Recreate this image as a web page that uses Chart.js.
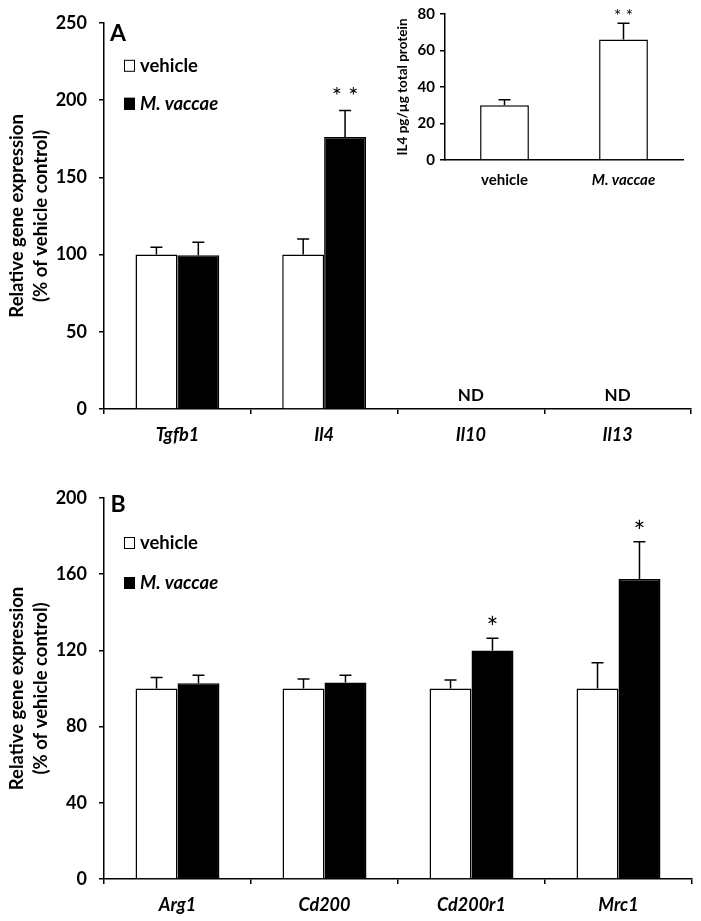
<!DOCTYPE html>
<html>
<head>
<meta charset="utf-8">
<script src="https://cdn.jsdelivr.net/npm/chart.js@4/dist/chart.umd.min.js"></script>
<style>
  body { margin: 0; background: #fff; width: 701px; height: 921px; position: relative; overflow: hidden; }
  canvas { position: absolute; }
</style>
</head>
<body>
<canvas id="panelA" width="701" height="450" style="left:0;top:0"></canvas>
<canvas id="inset" width="316" height="200" style="left:385px;top:0"></canvas>
<canvas id="panelB" width="701" height="471" style="left:0;top:450px"></canvas>
<script>
'use strict';

// panel A: cytokine genes
const genesA = ['Tgfb1', 'Il4', 'Il10', 'Il13'];
const vehicleA = [100, 100, null, null];
const vehicleErrA = [4.7, 10, null, null];
const vaccaeA = [99.5, 176, null, null];
const vaccaeErrA = [8.5, 17.3, null, null];
const starsA = ['', '**', '', ''];
const notDetectedA = [false, false, true, true];

// inset: IL4 protein
const insetGroups = ['vehicle', 'M. vaccae'];
const insetIL4 = [30, 66];
const insetErr = [3, 9];
const insetStars = ['', '**'];

// panel B: M2 markers
const genesB = ['Arg1', 'Cd200', 'Cd200r1', 'Mrc1'];
const vehicleB = [100, 100, 100, 100];
const vehicleErrB = [5.8, 5, 4.4, 13.5];
const vaccaeB = [102.8, 103.2, 120, 157.5];
const vaccaeErrB = [4.2, 3.8, 6.4, 19.5];
const starsB = ['', '', '*', '*'];

const yTicksA = { min: 0, max: 250, step: 50 };
const yTicksB = { min: 0, max: 200, step: 40 };
const yTicksInset = { min: 0, max: 80, step: 20 };

const FONT = 'Lato';
Chart.defaults.font.family = FONT;
Chart.defaults.color = '#000';

// error bars, stars, ND marks, panel letter and legend
const decorations = {
  id: 'decorations',
  afterDatasetsDraw(chart, args, opts) {
    const { ctx, chartArea, scales: { x, y } } = chart;
    ctx.save();
    ctx.strokeStyle = '#000';
    ctx.fillStyle = '#000';
    ctx.lineWidth = 1.5;
    chart.data.datasets.forEach((ds, di) => {
      const meta = chart.getDatasetMeta(di);
      meta.data.forEach((bar, i) => {
        const v = ds.data[i];
        if (v == null) return;
        let top = bar.y;
        const e = ds.err ? ds.err[i] : null;
        if (e) {
          top = y.getPixelForValue(v + e);
          ctx.beginPath();
          ctx.moveTo(bar.x, bar.y);
          ctx.lineTo(bar.x, top);
          ctx.moveTo(bar.x - opts.cap, top);
          ctx.lineTo(bar.x + opts.cap, top);
          ctx.stroke();
        }
        const s = ds.stars ? ds.stars[i] : '';
        if (s) {
          ctx.font = opts.starFont;
          ctx.textAlign = 'center';
          ctx.textBaseline = 'middle';
          ctx.fillText(s.split('').join(' '), bar.x, top - opts.starGap);
        }
      });
    });

    if (opts.nd) {
      ctx.font = `bold 17px ${FONT}`;
      ctx.textAlign = 'center';
      ctx.textBaseline = 'middle';
      opts.nd.forEach((flag, i) => {
        if (flag) ctx.fillText('ND', x.getPixelForValue(i), chartArea.bottom - 13);
      });
    }

    if (opts.letter) {
      ctx.font = `bold 23px ${FONT}`;
      ctx.textAlign = 'center';
      ctx.textBaseline = 'middle';
      ctx.fillText(opts.letter, chartArea.left + 14, chartArea.top + opts.letterY);
    }

    if (opts.legendY) {
      chart.data.datasets.forEach((ds, di) => {
        const cy = chartArea.top + opts.legendY[di];
        const bx = chartArea.left + 20;
        ctx.fillStyle = ds.backgroundColor;
        ctx.fillRect(bx, cy - 6, 11, 12);
        ctx.lineWidth = 1;
        ctx.strokeRect(bx + 0.5, cy - 5.5, 10, 11);
        ctx.fillStyle = '#000';
        ctx.font = `${ds.italicLabel ? 'italic ' : ''}bold 18.5px ${FONT}`;
        ctx.textAlign = 'left';
        ctx.textBaseline = 'middle';
        ctx.fillText(ds.label, bx + 16, cy);
      });
    }
    ctx.restore();
  }
};

function yAxis(t, width, title, titleFont, titlePad, tickFont, tickPad) {
  return {
    min: t.min, max: t.max,
    ticks: { stepSize: t.step, font: tickFont, padding: tickPad },
    grid: { drawOnChartArea: false, drawTicks: true, tickLength: 5, color: '#000', lineWidth: 1.5 },
    border: { display: true, color: '#000', width: 1.5 },
    title: { display: true, text: title, font: titleFont, padding: { top: titlePad, bottom: 0 } },
    afterFit: s => { s.width = width; }
  };
}

function xAxis(height) {
  return {
    ticks: { font: { size: 18, weight: 'bold', style: 'italic' }, padding: 10 },
    grid: { drawOnChartArea: false, drawTicks: true, tickLength: 5, color: '#000', lineWidth: 1.5, offset: true },
    border: { display: true, color: '#000', width: 1.5 },
    afterFit: s => { s.height = height; }
  };
}

function geneChart(id, labels, veh, vehErr, vac, vacErr, stars, yt, pad, xHeight, deco) {
  return new Chart(document.getElementById(id), {
    type: 'bar',
    data: {
      labels,
      datasets: [
        { label: 'vehicle', data: veh, err: vehErr, backgroundColor: '#fff', borderColor: '#000', borderWidth: 1.5 },
        { label: 'M. vaccae', data: vac, err: vacErr, stars, italicLabel: true, backgroundColor: '#000', borderColor: '#000', borderWidth: 1.5 }
      ]
    },
    options: {
      responsive: false,
      animation: false,
      devicePixelRatio: 1,
      categoryPercentage: 0.571,
      barPercentage: 1,
      layout: { padding: pad },
      scales: {
        x: xAxis(xHeight),
        y: yAxis(yt, 104, ['Relative gene expression', '(% of vehicle control)'],
          { size: 18.5, weight: 'bold', lineHeight: 1.3 }, 5, { size: 18, weight: 'bold' }, 12)
      },
      plugins: { legend: { display: false }, tooltip: { enabled: false }, decorations: deco }
    },
    plugins: [decorations]
  });
}

geneChart('panelA', genesA, vehicleA, vehicleErrA, vaccaeA, vaccaeErrA, starsA, yTicksA,
  { left: 0, right: 10, top: 15, bottom: 0 }, 41,
  { cap: 6, starFont: `24px ${FONT}`, starGap: 14, nd: notDetectedA, letter: 'A', letterY: 11, legendY: [43, 81] });

geneChart('panelB', genesB, vehicleB, vehicleErrB, vaccaeB, vaccaeErrB, starsB, yTicksB,
  { left: 0, right: 9, top: 48, bottom: 0 }, 42,
  { cap: 6, starFont: `28px ${FONT}`, starGap: 9, letter: 'B', letterY: 7, legendY: [45, 85] });

new Chart(document.getElementById('inset'), {
  type: 'bar',
  data: {
    labels: insetGroups,
    datasets: [
      { label: 'IL4', data: insetIL4, err: insetErr, stars: insetStars, backgroundColor: '#fff', borderColor: '#000', borderWidth: 1.5 }
    ]
  },
  options: {
    responsive: false,
    animation: false,
    devicePixelRatio: 1,
    categoryPercentage: 0.41,
    barPercentage: 1,
    layout: { padding: { left: 0, right: 18, top: 12, bottom: 0 } },
    scales: {
      x: {
        ticks: { font: c => ({ size: 15, weight: 'bold', style: c.index === 1 ? 'italic' : 'normal' }), padding: 11 },
        grid: { drawOnChartArea: false, drawTicks: false },
        border: { display: true, color: '#000', width: 1.5 },
        afterFit: s => { s.height = 40; }
      },
      y: yAxis(yTicksInset, 60, 'IL4 pg/\u00b5g total protein', { size: 13.5, weight: 'bold', lineHeight: 1.2 }, 10,
        { size: 15, weight: 'bold' }, 5)
    },
    plugins: { legend: { display: false }, tooltip: { enabled: false },
      decorations: { cap: 6, starFont: `17px ${FONT}`, starGap: 7 } }
  },
  plugins: [decorations]
});
</script>
</body>
</html>
